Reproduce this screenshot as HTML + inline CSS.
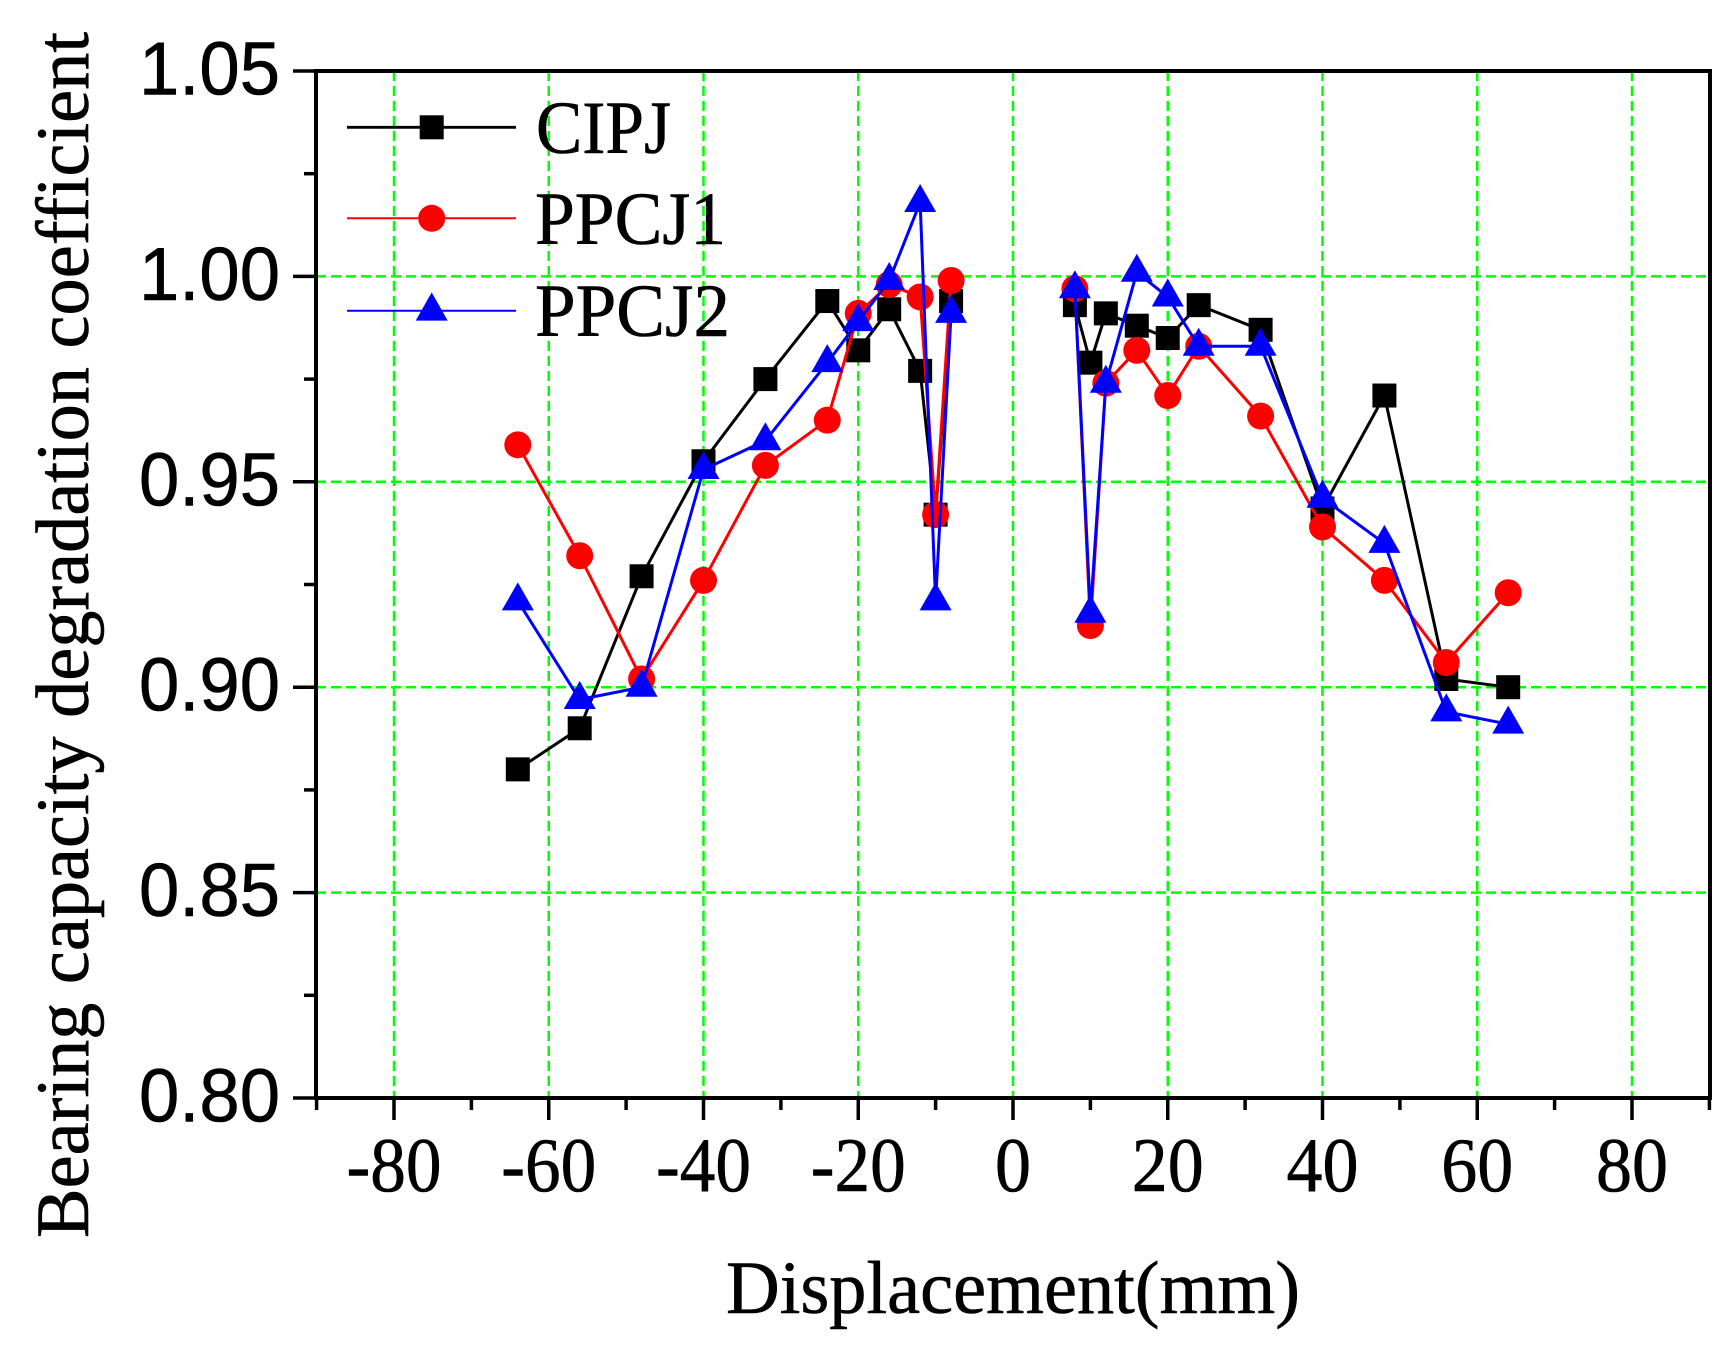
<!DOCTYPE html>
<html>
<head>
<meta charset="utf-8">
<style>
html,body{margin:0;padding:0;background:#fff;}
svg{display:block;}
</style>
</head>
<body>
<svg width="1735" height="1364" viewBox="0 0 1735 1364" xmlns="http://www.w3.org/2000/svg">
<defs>
<rect id="sq" x="-12" y="-12" width="24" height="24" fill="#000"/>
<circle id="ci" cx="0" cy="0" r="13.5" fill="#ff0000"/>
<polygon id="tr" points="0,-18.5 -16,9.5 16,9.5" fill="#0000ff"/>
</defs>
<rect x="0" y="0" width="1735" height="1364" fill="#fff"/>

<!-- grid -->
<g stroke="#00ff00" stroke-width="2.5" stroke-dasharray="10 5" fill="none">
<line x1="394" y1="71" x2="394" y2="1098"/>
<line x1="548.75" y1="71" x2="548.75" y2="1098"/>
<line x1="703.5" y1="71" x2="703.5" y2="1098"/>
<line x1="858.25" y1="71" x2="858.25" y2="1098"/>
<line x1="1013" y1="71" x2="1013" y2="1098"/>
<line x1="1167.75" y1="71" x2="1167.75" y2="1098"/>
<line x1="1322.5" y1="71" x2="1322.5" y2="1098"/>
<line x1="1477.25" y1="71" x2="1477.25" y2="1098"/>
<line x1="1632" y1="71" x2="1632" y2="1098"/>
<line x1="316" y1="276.4" x2="1710" y2="276.4"/>
<line x1="316" y1="481.8" x2="1710" y2="481.8"/>
<line x1="316" y1="687.2" x2="1710" y2="687.2"/>
<line x1="316" y1="892.6" x2="1710" y2="892.6"/>
</g>

<!-- frame -->
<rect x="316" y="71" width="1394" height="1027" fill="none" stroke="#000" stroke-width="4"/>

<!-- ticks -->
<g stroke="#000" stroke-width="3.5">
<line x1="293" y1="71" x2="316" y2="71"/>
<line x1="293" y1="276.4" x2="316" y2="276.4"/>
<line x1="293" y1="481.8" x2="316" y2="481.8"/>
<line x1="293" y1="687.2" x2="316" y2="687.2"/>
<line x1="293" y1="892.6" x2="316" y2="892.6"/>
<line x1="293" y1="1098" x2="316" y2="1098"/>
<line x1="304" y1="173.7" x2="316" y2="173.7"/>
<line x1="304" y1="379.1" x2="316" y2="379.1"/>
<line x1="304" y1="584.5" x2="316" y2="584.5"/>
<line x1="304" y1="789.9" x2="316" y2="789.9"/>
<line x1="304" y1="995.3" x2="316" y2="995.3"/>

<line x1="394" y1="1098" x2="394" y2="1120"/>
<line x1="548.75" y1="1098" x2="548.75" y2="1120"/>
<line x1="703.5" y1="1098" x2="703.5" y2="1120"/>
<line x1="858.25" y1="1098" x2="858.25" y2="1120"/>
<line x1="1013" y1="1098" x2="1013" y2="1120"/>
<line x1="1167.75" y1="1098" x2="1167.75" y2="1120"/>
<line x1="1322.5" y1="1098" x2="1322.5" y2="1120"/>
<line x1="1477.25" y1="1098" x2="1477.25" y2="1120"/>
<line x1="1632" y1="1098" x2="1632" y2="1120"/>

<line x1="316.6" y1="1098" x2="316.6" y2="1110"/>
<line x1="471.4" y1="1098" x2="471.4" y2="1110"/>
<line x1="626.1" y1="1098" x2="626.1" y2="1110"/>
<line x1="780.9" y1="1098" x2="780.9" y2="1110"/>
<line x1="935.6" y1="1098" x2="935.6" y2="1110"/>
<line x1="1090.4" y1="1098" x2="1090.4" y2="1110"/>
<line x1="1245.1" y1="1098" x2="1245.1" y2="1110"/>
<line x1="1399.9" y1="1098" x2="1399.9" y2="1110"/>
<line x1="1554.6" y1="1098" x2="1554.6" y2="1110"/>
<line x1="1709.4" y1="1098" x2="1709.4" y2="1110"/>
</g>

<!-- y tick labels -->
<g font-family="'Liberation Sans', Arial, sans-serif" font-size="75" fill="#000" stroke="#000" stroke-width="0.6" text-anchor="end">
<text x="280" y="94.5" textLength="141" lengthAdjust="spacingAndGlyphs">1.05</text>
<text x="280" y="299.9" textLength="141" lengthAdjust="spacingAndGlyphs">1.00</text>
<text x="280" y="505.3" textLength="141" lengthAdjust="spacingAndGlyphs">0.95</text>
<text x="280" y="710.7" textLength="141" lengthAdjust="spacingAndGlyphs">0.90</text>
<text x="280" y="916.1" textLength="141" lengthAdjust="spacingAndGlyphs">0.85</text>
<text x="280" y="1121.5" textLength="141" lengthAdjust="spacingAndGlyphs">0.80</text>
</g>

<!-- x tick labels -->
<g font-family="'Liberation Serif', 'Times New Roman', serif" font-size="77" fill="#000" stroke="#000" stroke-width="0.6" text-anchor="middle">
<text x="394" y="1191" textLength="95" lengthAdjust="spacingAndGlyphs">-80</text>
<text x="548.75" y="1191" textLength="95" lengthAdjust="spacingAndGlyphs">-60</text>
<text x="703.5" y="1191" textLength="95" lengthAdjust="spacingAndGlyphs">-40</text>
<text x="858.25" y="1191" textLength="95" lengthAdjust="spacingAndGlyphs">-20</text>
<text x="1013" y="1191" textLength="36" lengthAdjust="spacingAndGlyphs">0</text>
<text x="1167.75" y="1191" textLength="72" lengthAdjust="spacingAndGlyphs">20</text>
<text x="1322.5" y="1191" textLength="72" lengthAdjust="spacingAndGlyphs">40</text>
<text x="1477.25" y="1191" textLength="72" lengthAdjust="spacingAndGlyphs">60</text>
<text x="1632" y="1191" textLength="72" lengthAdjust="spacingAndGlyphs">80</text>
</g>

<!-- axis titles -->
<text x="1013" y="1313" font-family="'Liberation Serif', 'Times New Roman', serif" font-size="75" stroke="#000" stroke-width="0.6" text-anchor="middle" textLength="574" lengthAdjust="spacingAndGlyphs">Displacement(mm)</text>
<text transform="translate(88,635) rotate(-90)" x="0" y="0" font-family="'Liberation Serif', 'Times New Roman', serif" font-size="75" stroke="#000" stroke-width="0.6" text-anchor="middle" textLength="1206" lengthAdjust="spacingAndGlyphs">Bearing capacity degradation coefficient</text>

<!-- CIPJ -->
<g>
<polyline fill="none" stroke="#000" stroke-width="3" stroke-linejoin="round" points="517.8,769.36 579.7,728.28 641.6,576.28 703.5,461.26 765.4,379.1 827.3,301.05 858.25,350.34 889.2,309.26 920.15,370.88 935.6,514.66 951.1,301.05"/>
<polyline fill="none" stroke="#000" stroke-width="3" stroke-linejoin="round" points="1074.9,305.16 1090.4,362.67 1105.85,313.37 1136.8,325.7 1167.75,338.02 1198.7,305.16 1260.6,329.8 1322.5,508.5 1384.4,395.53 1446.3,678.98 1508.2,687.2"/>
<use href="#sq" x="517.8" y="769.36"/>
<use href="#sq" x="579.7" y="728.28"/>
<use href="#sq" x="641.6" y="576.28"/>
<use href="#sq" x="703.5" y="461.26"/>
<use href="#sq" x="765.4" y="379.1"/>
<use href="#sq" x="827.3" y="301.05"/>
<use href="#sq" x="858.25" y="350.34"/>
<use href="#sq" x="889.2" y="309.26"/>
<use href="#sq" x="920.15" y="370.88"/>
<use href="#sq" x="935.6" y="514.66"/>
<use href="#sq" x="951.1" y="301.05"/>
<use href="#sq" x="1074.9" y="305.16"/>
<use href="#sq" x="1090.4" y="362.67"/>
<use href="#sq" x="1105.85" y="313.37"/>
<use href="#sq" x="1136.8" y="325.7"/>
<use href="#sq" x="1167.75" y="338.02"/>
<use href="#sq" x="1198.7" y="305.16"/>
<use href="#sq" x="1260.6" y="329.8"/>
<use href="#sq" x="1322.5" y="508.5"/>
<use href="#sq" x="1384.4" y="395.53"/>
<use href="#sq" x="1446.3" y="678.98"/>
<use href="#sq" x="1508.2" y="687.2"/>
</g>

<!-- PPCJ1 -->
<g>
<polyline fill="none" stroke="#ff0000" stroke-width="3" stroke-linejoin="round" points="517.8,444.83 579.7,555.74 641.6,678.98 703.5,580.39 765.4,465.37 827.3,420.18 858.25,313.37 889.2,284.62 920.15,296.94 935.6,514.66 951.1,280.51"/>
<polyline fill="none" stroke="#ff0000" stroke-width="3" stroke-linejoin="round" points="1074.9,288.72 1090.4,625.58 1105.85,383.21 1136.8,350.34 1167.75,395.53 1198.7,346.24 1260.6,416.07 1322.5,526.99 1384.4,580.39 1446.3,662.55 1508.2,592.72"/>
<use href="#ci" x="517.8" y="444.83"/>
<use href="#ci" x="579.7" y="555.74"/>
<use href="#ci" x="641.6" y="678.98"/>
<use href="#ci" x="703.5" y="580.39"/>
<use href="#ci" x="765.4" y="465.37"/>
<use href="#ci" x="827.3" y="420.18"/>
<use href="#ci" x="858.25" y="313.37"/>
<use href="#ci" x="889.2" y="284.62"/>
<use href="#ci" x="920.15" y="296.94"/>
<use href="#ci" x="935.6" y="514.66"/>
<use href="#ci" x="951.1" y="280.51"/>
<use href="#ci" x="1074.9" y="288.72"/>
<use href="#ci" x="1090.4" y="625.58"/>
<use href="#ci" x="1105.85" y="383.21"/>
<use href="#ci" x="1136.8" y="350.34"/>
<use href="#ci" x="1167.75" y="395.53"/>
<use href="#ci" x="1198.7" y="346.24"/>
<use href="#ci" x="1260.6" y="416.07"/>
<use href="#ci" x="1322.5" y="526.99"/>
<use href="#ci" x="1384.4" y="580.39"/>
<use href="#ci" x="1446.3" y="662.55"/>
<use href="#ci" x="1508.2" y="592.72"/>
</g>

<!-- PPCJ2 -->
<g>
<polyline fill="none" stroke="#0000ff" stroke-width="3" stroke-linejoin="round" points="517.8,600.93 579.7,699.52 641.6,687.2 703.5,469.48 765.4,440.72 827.3,362.67 858.25,321.59 889.2,280.51 920.15,202.46 935.6,600.93 951.1,313.37"/>
<polyline fill="none" stroke="#0000ff" stroke-width="3" stroke-linejoin="round" points="1074.9,288.72 1090.4,613.26 1105.85,383.21 1136.8,272.29 1167.75,296.94 1198.7,346.24 1260.6,346.24 1322.5,498.23 1384.4,543.42 1446.3,711.85 1508.2,724.17"/>
<use href="#tr" x="517.8" y="600.93"/>
<use href="#tr" x="579.7" y="699.52"/>
<use href="#tr" x="641.6" y="687.2"/>
<use href="#tr" x="703.5" y="469.48"/>
<use href="#tr" x="765.4" y="440.72"/>
<use href="#tr" x="827.3" y="362.67"/>
<use href="#tr" x="858.25" y="321.59"/>
<use href="#tr" x="889.2" y="280.51"/>
<use href="#tr" x="920.15" y="202.46"/>
<use href="#tr" x="935.6" y="600.93"/>
<use href="#tr" x="951.1" y="313.37"/>
<use href="#tr" x="1074.9" y="288.72"/>
<use href="#tr" x="1090.4" y="613.26"/>
<use href="#tr" x="1105.85" y="383.21"/>
<use href="#tr" x="1136.8" y="272.29"/>
<use href="#tr" x="1167.75" y="296.94"/>
<use href="#tr" x="1198.7" y="346.24"/>
<use href="#tr" x="1260.6" y="346.24"/>
<use href="#tr" x="1322.5" y="498.23"/>
<use href="#tr" x="1384.4" y="543.42"/>
<use href="#tr" x="1446.3" y="711.85"/>
<use href="#tr" x="1508.2" y="724.17"/>
</g>

<!-- legend -->
<line x1="347" y1="127.3" x2="516" y2="127.3" stroke="#000" stroke-width="2.8"/>
<rect x="419.7" y="115.3" width="24" height="24" fill="#000"/>
<line x1="347" y1="218.3" x2="516" y2="218.3" stroke="#ff0000" stroke-width="2"/>
<circle cx="431.7" cy="218.3" r="13.5" fill="#ff0000"/>
<line x1="347" y1="310.7" x2="516" y2="310.7" stroke="#0000ff" stroke-width="2"/>
<polygon points="431.7,292.4 415.7,320.6 447.7,320.6" fill="#0000ff"/>
<g font-family="'Liberation Serif', 'Times New Roman', serif" font-size="75" fill="#000" stroke="#000" stroke-width="0.6">
<text x="536" y="153" textLength="135" lengthAdjust="spacingAndGlyphs">CIPJ</text>
<text x="535" y="244" textLength="191" lengthAdjust="spacingAndGlyphs">PPCJ1</text>
<text x="535" y="336" textLength="195" lengthAdjust="spacingAndGlyphs">PPCJ2</text>
</g>
</svg>
</body>
</html>
